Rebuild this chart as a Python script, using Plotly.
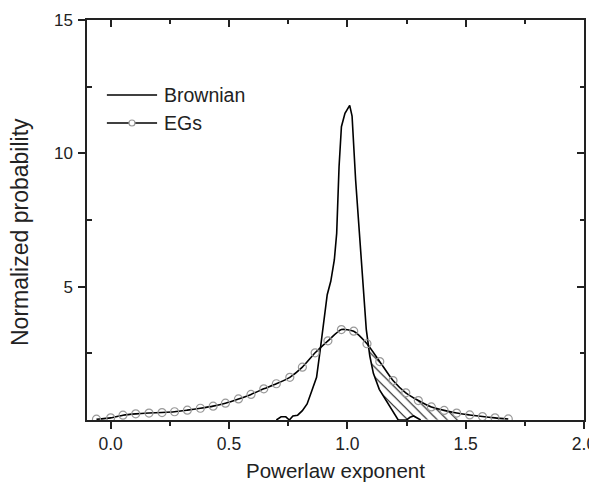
import numpy as np
import plotly.graph_objects as go

# ---- data ----
egs_x = [-0.06, 0.0, 0.052, 0.106, 0.162, 0.217, 0.27, 0.324, 0.379, 0.433, 0.485,
         0.54, 0.593, 0.647, 0.70, 0.757, 0.81, 0.864, 0.918, 0.975, 1.027, 1.083,
         1.137, 1.193, 1.247, 1.30, 1.355, 1.409, 1.462, 1.517, 1.571, 1.624, 1.68]
egs_y = [0.03, 0.08, 0.18, 0.23, 0.26, 0.28, 0.31, 0.37, 0.44, 0.52, 0.63,
         0.79, 0.96, 1.17, 1.36, 1.60, 1.98, 2.52, 2.97, 3.39, 3.33, 2.86,
         2.19, 1.48, 1.02, 0.73, 0.49, 0.36, 0.26, 0.19, 0.13, 0.08, 0.04]

brown_x = [0.70, 0.72, 0.74, 0.755, 0.77, 0.79, 0.81, 0.83, 0.85, 0.87, 0.885, 0.90,
           0.915, 0.93, 0.945, 0.955, 0.965, 0.975, 0.99, 1.01, 1.02, 1.035, 1.05,
           1.06, 1.07, 1.08, 1.095, 1.11, 1.135, 1.16, 1.18, 1.20, 1.215, 1.25,
           1.265, 1.28, 1.30, 1.31]
brown_y = [0.0, 0.12, 0.12, 0.0, 0.15, 0.18, 0.35, 0.6, 1.1, 1.6, 2.6, 3.6,
           4.7, 5.2, 6.0, 7.0, 9.5, 11.0, 11.5, 11.8, 11.4, 9.0, 7.2,
           6.0, 4.8, 3.4, 2.4, 1.75, 1.15, 0.8, 0.5, 0.2, 0.0, 0.0,
           0.1, 0.15, 0.05, 0.0]

series_names = ["Brownian", "EGs"]
x_ticks = [0.0, 0.5, 1.0, 1.5, 2.0]
x_ticklabels = ["0.0", "0.5", "1.0", "1.5", "2.0"]
y_ticks = [5, 10, 15]
y_ticklabels = ["5", "10", "15"]
x_title = "Powerlaw exponent"
y_title = "Normalized probability"
hatch_end = 1.47

# ---- hatched region between EGs and Brownian (right tail) ----
grid = np.linspace(1.05, hatch_end, 300)
up = np.interp(grid, egs_x, egs_y)
lo = np.interp(grid, brown_x, brown_y, right=0.0)
mask = up >= lo
start = np.argmax(mask)
gx = grid[start:]
gu = up[start:]
gl = lo[start:]
poly_x = np.concatenate([gx, gx[::-1]])
poly_y = np.concatenate([gu, gl[::-1]])

FONT = "Arial, Liberation Sans, sans-serif"
INK = "#222222"
MARK = "#999999"

fig = go.Figure()
fig.add_trace(go.Scatter(
    x=poly_x, y=poly_y, mode="lines", fill="toself",
    line=dict(width=0, color="rgba(0,0,0,0)"),
    fillcolor="white",
    fillpattern=dict(shape="\\", size=7, solidity=0.17, fgcolor="#222222",
                     fgopacity=1, bgcolor="white", fillmode="replace"),
    showlegend=False, hoverinfo="skip"))
fig.add_trace(go.Scatter(
    x=brown_x, y=brown_y, mode="lines", name=series_names[0], showlegend=False,
    line=dict(color="black", width=1.6)))
fig.add_trace(go.Scatter(
    x=egs_x, y=egs_y, mode="lines+markers", name=series_names[1], showlegend=False,
    line=dict(color="black", width=1.6, shape="spline", smoothing=0.6),
    marker=dict(symbol="circle-open", size=8, color=MARK, line=dict(width=1.2))))
# invisible trace to anchor top/right tick axes
fig.add_trace(go.Scatter(x=[None], y=[None], xaxis="x2", yaxis="y2", showlegend=False))

# ---- hand-drawn legend (paper coordinates) ----
leg_x0, leg_x1, leg_text_x = 0.040, 0.141, 0.150
leg_rows = [0.8125, 0.7425]
shapes = []
annotations = []
for i, (name, yy) in enumerate(zip(series_names, leg_rows)):
    shapes.append(dict(type="line", xref="paper", yref="paper", x0=leg_x0, x1=leg_x1,
                       y0=yy, y1=yy, line=dict(color="black", width=1.6)))
    annotations.append(dict(text=name, xref="paper", yref="paper", x=leg_text_x, y=yy,
                            xanchor="left", yanchor="middle", showarrow=False,
                            font=dict(size=19.5, family=FONT, color=INK)))
shapes.append(dict(type="circle", xref="paper", yref="paper",
                   xsizemode="pixel", ysizemode="pixel",
                   xanchor=(leg_x0 + leg_x1) / 2, yanchor=leg_rows[1],
                   x0=-3, x1=3, y0=-3, y1=3,
                   line=dict(color=MARK, width=1.2), fillcolor="white"))

# axis titles as annotations (placed like the reference)
annotations.append(dict(text=y_title, xref="paper", yref="paper", x=0, y=0.47,
                        xshift=-67, xanchor="center", yanchor="middle", textangle=-90,
                        showarrow=False, font=dict(size=23, family=FONT, color=INK)))
annotations.append(dict(text=x_title, xref="paper", yref="paper", x=0.5, y=0,
                        yshift=-50, xanchor="center", yanchor="middle",
                        showarrow=False, font=dict(size=20.5, family=FONT, color=INK)))

# the page body has an 8px margin, so shrink the figure by that amount
OFF = 8
fig.update_layout(
    width=597 - OFF, height=484 - OFF,
    margin=dict(l=87 - OFF, r=13, t=20 - OFF, b=64),
    paper_bgcolor="white", plot_bgcolor="white",
    font=dict(family=FONT, color=INK, size=17),
    showlegend=False,
    shapes=shapes, annotations=annotations,
    xaxis=dict(range=[-0.1, 2.0], tickvals=x_ticks, ticktext=x_ticklabels,
               automargin=False,
               showgrid=False, zeroline=False, showline=True, linecolor=INK,
               linewidth=1.5, mirror=True, ticks="outside", ticklen=7, tickwidth=1.5,
               tickcolor=INK,
               minor=dict(tickvals=[0.25, 0.75, 1.25, 1.75], ticks="outside", ticklen=4,
                          tickwidth=1.5, tickcolor=INK),
               tickfont=dict(size=17.5)),
    yaxis=dict(range=[0, 15], tickvals=y_ticks, ticktext=y_ticklabels,
               automargin=False,
               showgrid=False, zeroline=False, showline=True, linecolor=INK,
               linewidth=1.5, mirror=True, ticks="outside", ticklen=7, tickwidth=1.5,
               tickcolor=INK, ticklabelstandoff=2,
               minor=dict(tickvals=[2.5, 7.5, 12.5], ticks="inside", ticklen=5,
                          tickwidth=1.5, tickcolor=INK),
               tickfont=dict(size=17)),
    xaxis2=dict(overlaying="x", side="top", range=[-0.1, 2.0], tickvals=[0, 0.5, 1.0, 1.5],
                automargin=False,
                showticklabels=False, showgrid=False, zeroline=False, showline=False,
                ticks="inside", ticklen=7, tickwidth=1.5, tickcolor=INK,
                minor=dict(tickvals=[0.25, 0.75, 1.25, 1.75], ticks="inside", ticklen=4,
                           tickwidth=1.5, tickcolor=INK)),
    yaxis2=dict(overlaying="y", side="right", range=[0, 15], tickvals=[5, 10],
                automargin=False,
                showticklabels=False, showgrid=False, zeroline=False, showline=False,
                ticks="inside", ticklen=7, tickwidth=1.5, tickcolor=INK,
                minor=dict(tickvals=[2.5, 7.5, 12.5], ticks="inside", ticklen=4,
                           tickwidth=1.5, tickcolor=INK)),
)

fig.write_html("out.html")
